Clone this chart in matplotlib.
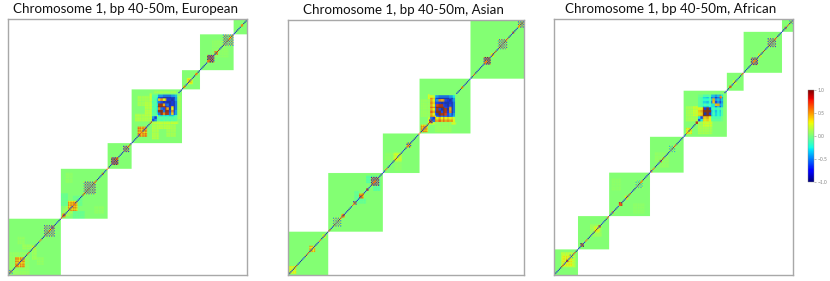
import numpy as np
import matplotlib
matplotlib.use('Agg')
import matplotlib.pyplot as plt

plt.rcParams['font.family'] = ['Lato', 'DejaVu Sans']

N = 200

titles = ['Chromosome 1, bp 40-50m, European',
          'Chromosome 1, bp 40-50m, Asian',
          'Chromosome 1, bp 40-50m, African']

# LD block edges, percent of the window
blocks_eu = [0, 22.2, 41.6, 51.7, 72.3, 79.8, 93.8, 100]
blocks_as = [0, 17.2, 40.2, 55.4, 77.0, 100]
blocks_af = [0, 9.8, 23.0, 39.8, 53.8, 71.8, 79.0, 95.0, 100]

# squares on the diagonal: start, end, value
spots_eu = [(0.5, 2, -0.3), (3, 7, 0.65), (10, 11.5, 0.4), (15, 19.5, -0.28), (17.8, 19.2, 0.8),
            (22.6, 24, 0.95), (25, 29, 0.65), (31.4, 36.3, -0.3), (39, 40, 0.6),
            (43, 46, -0.5), (47.8, 50.7, -0.35), (54.2, 58, 0.7), (59.3, 60, -0.7),
            (73, 74, 0.6), (74.7, 76.8, 0.45), (78, 79, 0.5), (83, 86, -0.5), (86, 87.5, 0.65),
            (89.4, 93.8, -0.28), (97, 98, 0.8)]
spots_as = [(0.4, 3.5, 0.38), (7, 8.2, 0.5), (9, 11.4, 0.55), (14.5, 16, 0.4),
            (19, 22.5, -0.25), (22.5, 23.8, 0.9), (27.5, 29, -0.4), (30, 32, 0.75), (33, 34, 0.9),
            (35, 38.4, -0.4), (44.7, 47.8, 0.3), (50, 52, -0.35), (56, 59, 0.65),
            (59.5, 60.8, -0.6), (73, 74.2, 0.6), (82.7, 85.5, -0.45), (85.5, 87, 0.6),
            (88.6, 92.3, -0.28), (94.5, 95.5, 0.9), (96.8, 99.3, -0.3)]
spots_af = [(3.5, 8, 0.4), (4.8, 6, 1.0), (6.5, 8, -0.25), (11, 12.5, -0.5), (16.4, 19.2, 0.35),
            (18.4, 19.4, 0.85), (24, 25, -0.4), (27, 28.5, 0.9), (29.5, 31, 0.5), (33.8, 37, -0.2),
            (40, 41, 0.85), (44, 45, -0.5), (47.8, 50.3, -0.2), (54.8, 57.6, 0.4),
            (59, 60, -0.7), (69, 70, 0.7), (73, 74, -0.5), (74.5, 76, 0.4), (82, 85, -0.4),
            (85, 86.5, 0.4), (89, 92.6, -0.3), (96, 97, -0.5), (98, 99.5, -0.2)]

# faint patches off the diagonal: x0, x1, y0, y1, value
haze_eu = [(2, 9, 0, 8, 0.09), (6, 10, 10, 12, 0.12), (4, 7, 12, 15, 0.08), (23, 28, 24, 26, 0.14),
           (27, 32, 22, 25, -0.08), (27, 31, 28, 31, -0.07), (36, 40, 24, 27, 0.07),
           (53, 60, 60, 63, 0.18), (54, 59, 66, 70, 0.14), (62, 68, 57, 59, 0.2), (61, 71, 59, 60, 0.25),
           (61, 70, 71, 72, 0.14), (85, 90, 86, 92, 0.07)]
haze_as = [(59, 71, 59, 60, 0.3), (56, 60, 62, 69, 0.1),
           (29, 33, 28, 30, -0.1), (33, 38, 36, 39, -0.14), (41, 48, 45, 48, 0.07)]
haze_af = [(3, 9, 3, 8, 0.22), (55, 60, 60, 66, 0.15), (58, 60, 62, 66, 0.3),
           (15, 20, 15, 20, 0.12), (42, 47, 44, 48, 0.08), (33, 38, 24, 28, 0.06)]

# strongest blocks, bottom left corner first
core_eu = [[-.7, -.5, -.1, -.1, -.15, -.1, -.15, -.1, -.15, -.1, -.15, -.1],
           [-.5, -.8, -.15, -.1, -.1, -.15, -.1, -.15, -.1, -.15, -.1, -.1],
           [-.1, -.15, .3, -.3, -.4, -.3, -.4, -.3, -.4, -.4, -.3, -.2],
           [-.1, -.1, -.3, -.6, .95, .6, .95, .9, -.6, .4, -.7, -.5],
           [-.15, -.1, -.4, .95, 1.0, -.6, 1.0, .95, -.7, .6, -.8, -.5],
           [-.1, -.15, -.3, .6, -.6, -.7, .9, .5, -.9, .3, -.9, -.6],
           [-.15, -.1, -.4, .95, 1.0, .9, 1.0, -.7, -.8, .5, -.9, -.6],
           [-.1, -.15, -.3, .9, .95, .5, -.7, -.6, -.9, -.8, -.9, -.6],
           [-.15, -.1, -.4, -.6, -.7, -.9, -.8, -.9, -.9, -.8, -.9, -.6],
           [-.1, -.15, -.4, .4, .6, .3, .5, -.8, -.8, -.9, -.8, -.5],
           [-.15, -.1, -.3, -.7, -.8, -.9, -.9, -.9, -.9, -.8, -.9, -.5],
           [-.1, -.1, -.2, -.5, -.5, -.6, -.6, -.6, -.6, -.5, -.5, -.4]]
core_as = [[-.7, -.6, .6, .5, .7, .5, .7, .5, .6, .5, .6, .3],
           [-.6, -.8, .5, .3, .5, .3, .6, .3, .4, .3, .4, .2],
           [.6, .5, .3, -.6, -.7, -.6, -.7, -.6, -.7, -.6, -.6, -.4],
           [.5, .3, -.6, -.8, 1.0, .9, 1.0, .8, -.7, -.5, -.8, -.5],
           [.7, .5, -.7, 1.0, 1.0, -.7, 1.0, .9, -.8, .6, -.9, -.6],
           [.5, .3, -.6, .9, -.7, -.9, 1.0, .9, -.9, .5, -.9, -.6],
           [.7, .6, -.7, 1.0, 1.0, 1.0, 1.0, -.7, -.8, .6, -.9, -.6],
           [.5, .3, -.6, .8, .9, .9, -.7, -.8, -.9, -.7, -.9, -.6],
           [.6, .4, -.7, -.7, -.8, -.9, -.8, -.9, -.9, -.8, -.9, -.6],
           [.5, .3, -.6, -.5, .6, .5, .6, -.7, -.8, -.9, -.7, -.5],
           [.6, .4, -.6, -.8, -.9, -.9, -.9, -.9, -.9, -.7, -.9, -.5],
           [.3, .2, -.4, -.5, -.6, -.6, -.6, -.6, -.6, -.5, -.5, -.3]]
core_af = [[-.7, -.3, .4, .35, .4, .3, -.1, -.1, -.1, -.1, -.1, -.05],
           [-.3, -.7, .5, .4, .5, .3, -.15, -.15, -.15, -.15, -.15, -.05],
           [.4, .5, 1.0, 1.0, 1.0, .9, -.4, -.25, -.35, -.25, -.35, -.15],
           [.35, .4, 1.0, -.9, 1.0, -.8, -.35, -.15, -.35, -.25, -.35, -.15],
           [.4, .5, 1.0, 1.0, 1.0, 1.0, -.4, -.25, -.4, -.25, -.4, -.15],
           [.3, .3, .9, -.8, 1.0, -.8, -.25, -.15, -.25, -.15, -.25, -.1],
           [-.1, -.15, -.4, -.35, -.4, -.25, -.3, -.3, -.6, -.4, -.7, -.4],
           [-.1, -.15, -.25, -.15, -.25, -.15, -.3, -.3, .45, .5, -.5, -.4],
           [-.1, -.15, -.35, -.35, -.4, -.25, -.6, .45, -.7, -.5, -.8, -.5],
           [-.1, -.15, -.25, -.25, -.25, -.15, -.4, .5, -.5, -.4, -.6, -.4],
           [-.1, -.15, -.35, -.35, -.4, -.25, -.7, -.5, -.8, -.6, -.8, -.5],
           [-.05, -.05, -.15, -.15, -.15, -.1, -.4, -.4, -.5, -.4, -.5, -.3]]

# repeating look of the diagonal and of the weave inside each square
diag_cycle = [-0.9, -0.8, -0.9, 0.9, -0.8, -0.9, -0.7, -0.9, 0.8, -0.9, -0.8, -0.9, -0.8, 0.7]
weave = [1.0, 0.85, 0.95, 0.65, 1.0, 0.75]


def cell(p):
    return int(round(p * N / 100))


def build(blocks, spots, haze, core):
    m = np.full((N, N), np.nan)
    for a, b in zip(blocks[:-1], blocks[1:]):
        m[cell(a):cell(b), cell(a):cell(b)] = 0.02
    for x0, x1, y0, y1, v in haze:
        for j in range(cell(y0), cell(y1)):
            for i in range(cell(x0), cell(x1)):
                w = weave[i % 6] * weave[j % 6] * v
                if not np.isnan(m[j, i]):
                    m[j, i] = w
                    m[i, j] = w
    for row, vals in enumerate(core):
        for col, v in enumerate(vals):
            m[cell(60 + row * 0.88):cell(60 + (row + 1) * 0.88),
              cell(60 + col * 0.88):cell(60 + (col + 1) * 0.88)] = v
    for a, b, v in spots:
        for j in range(cell(a), cell(b)):
            for i in range(cell(a), cell(b)):
                # blue cells next to warm ones blur to the grey teal of the reference
                if v < 0 and (i + j) % 2:
                    m[j, i] = -v * 1.2
                elif v < 0:
                    m[j, i] = max(v * 2.2, -1) * weave[i % 6]
                else:
                    m[j, i] = v * weave[i % 6] * weave[j % 6]
    for i in range(N):
        if not 60 * N / 100 <= i < 71 * N / 100:
            m[i, i] = diag_cycle[(i // 2) % len(diag_cycle)]
    return m


def to_rgb(m, cmap):
    # the reference is a soft screenshot: strong colours lean towards the block green
    rgb = cmap((m + 1) / 2)[:, :, :3]
    rgb = 0.78 * rgb + 0.22 * np.array(cmap(0.51)[:3])
    rgb[np.isnan(m)] = 1.0
    return rgb


panels = [(blocks_eu, spots_eu, haze_eu, core_eu, (8, 247, 19, 275)),
          (blocks_as, spots_as, haze_as, core_as, (287.5, 524, 20, 274.5)),
          (blocks_af, spots_af, haze_af, core_af, (554, 793, 19, 275))]

W, H = 830, 281
fig = plt.figure(figsize=(W / 100, H / 100), dpi=100)
cmap = plt.get_cmap('jet')

for title, (blocks, spots, haze, core, box) in zip(titles, panels):
    l, r, t, b = box
    ax = fig.add_axes([l / W, 1 - b / H, (r - l) / W, (b - t) / H])
    ax.imshow(to_rgb(build(blocks, spots, haze, core), cmap), origin='lower',
              interpolation='hanning', aspect='auto', extent=(0, 100, 0, 100))
    ax.set_xticks([])
    ax.set_yticks([])
    for s in ax.spines.values():
        s.set_color('#a8a8a8')
        s.set_linewidth(1.0)
    ax.set_title(title, fontsize=9.6, color='#111111', pad=4.5, x=0.49)

cax = fig.add_axes([808 / W, 1 - 181.5 / H, 6 / W, 91.5 / H])
sm = plt.cm.ScalarMappable(norm=plt.Normalize(-1, 1), cmap=cmap)
cb = fig.colorbar(sm, cax=cax, ticks=[-1, -0.5, 0, 0.5, 1])
cb.ax.tick_params(labelsize=3.6, length=1.5, width=0.4, pad=1, colors='#888888')
cb.outline.set_linewidth(0.3)
cb.outline.set_edgecolor('#888888')

fig.savefig('out.png', dpi=100)
